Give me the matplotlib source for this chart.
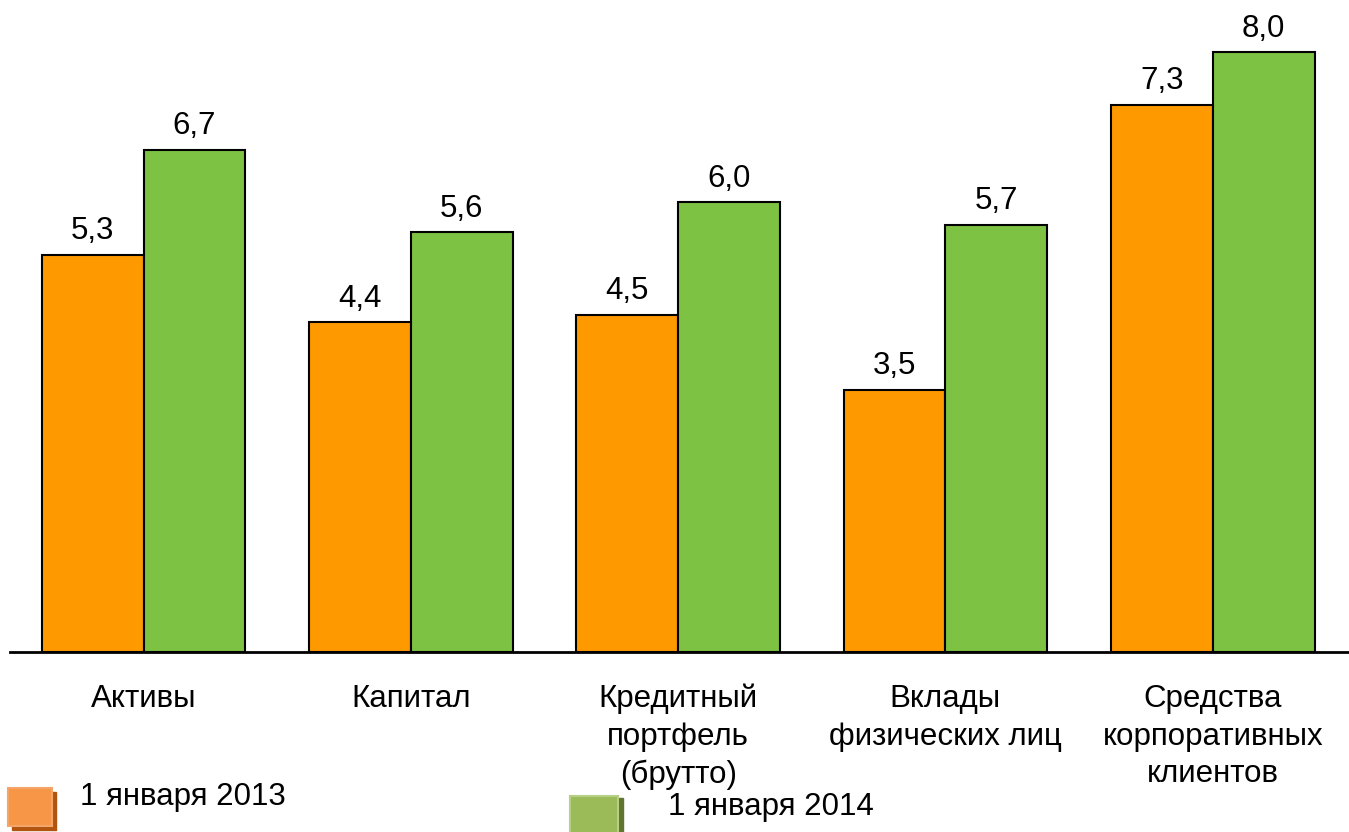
import numpy as np
import matplotlib.pyplot as plt
from matplotlib.patches import Rectangle

plt.rcParams['font.family'] = ['Liberation Sans', 'DejaVu Sans']

categories = ['Активы', 'Капитал', 'Кредитный\nпортфель\n(брутто)',
              'Вклады\nфизических лиц', 'Средства\nкорпоративных\nклиентов']
values_2013 = [5.3, 4.4, 4.5, 3.5, 7.3]
values_2014 = [6.7, 5.6, 6.0, 5.7, 8.0]
series_labels = ['1 января 2013', '1 января 2014']

fig = plt.figure(figsize=(13.49, 8.32), dpi=100)
ax = fig.add_axes([10 / 1349, 180 / 832, 1339 / 1349, 637.5 / 832])

x = np.arange(len(categories))
w = 0.381
b1 = ax.bar(x - w / 2, values_2013, w, color='#ff9900', edgecolor='black', linewidth=1.5)
b2 = ax.bar(x + w / 2, values_2014, w, color='#7dc243', edgecolor='black', linewidth=1.5)

for bars, vals in ((b1, values_2013), (b2, values_2014)):
    for r, v in zip(bars, vals):
        ax.text(r.get_x() + r.get_width() / 2, v + 0.11, f'{v:.1f}'.replace('.', ','),
                ha='center', va='bottom', fontsize=22.5)

ax.set_xlim(-0.5, 4.51)
ax.set_ylim(0, 8.5)
for s in ['top', 'right', 'left']:
    ax.spines[s].set_visible(False)
ax.spines['bottom'].set_linewidth(2)
ax.set_yticks([])
ax.set_xticks(x)
ax.set_xticklabels(categories, fontsize=22.5, linespacing=1.33)
ax.tick_params(axis='x', length=0, pad=23)

# legend markers with shadow
fig.patches.append(Rectangle((12 / 1349, (832 - 830) / 832), 44 / 1349, 38 / 832,
                             transform=fig.transFigure, color='#b0540f', zorder=1))
fig.patches.append(Rectangle((8 / 1349, (832 - 826) / 832), 44 / 1349, 38 / 832,
                             transform=fig.transFigure, facecolor='#f79646',
                             edgecolor='#f6a56a', linewidth=1.5, zorder=2))
fig.text(80 / 1349, 1 - 797 / 832, series_labels[0], fontsize=22.5, va='center')

fig.patches.append(Rectangle((575 / 1349, 0), 48 / 1349, 34 / 832,
                             transform=fig.transFigure, color='#5f7530', zorder=1))
fig.patches.append(Rectangle((570 / 1349, (832 - 834) / 832), 48 / 1349, 38 / 832,
                             transform=fig.transFigure, facecolor='#9bbb59',
                             edgecolor='#b5cf85', linewidth=1.5, zorder=2))
fig.text(668 / 1349, 1 - 807 / 832, series_labels[1], fontsize=22.5, va='center')

fig.savefig('out.png', dpi=100)
